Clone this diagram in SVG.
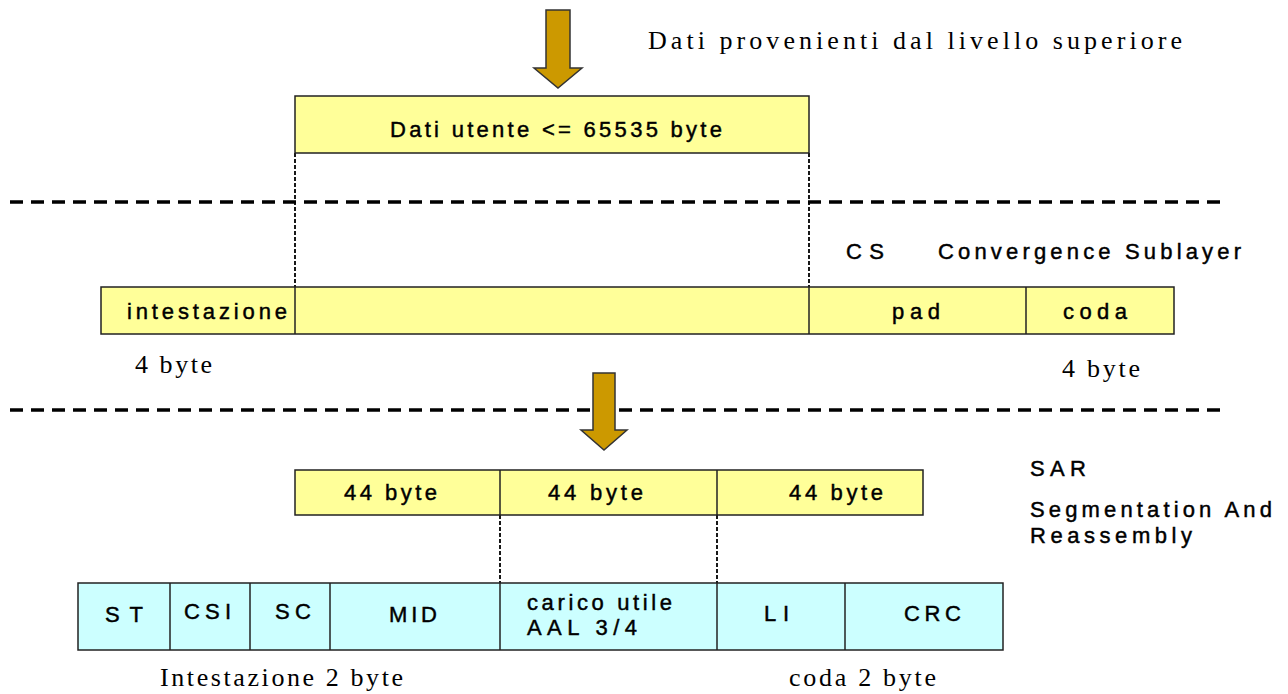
<svg xmlns="http://www.w3.org/2000/svg" width="1288" height="694" viewBox="0 0 1288 694">
  <style>
    .y { fill: #FFFF99; stroke: #222; stroke-width: 1.5; }
    .c { fill: #CCFFFF; stroke: #222; stroke-width: 1.5; }
    .div { stroke: #222; stroke-width: 1.5; }
    .arrow { fill: #CC9900; stroke: #333; stroke-width: 1.5; }
    .dash { stroke: #000; stroke-width: 3.5; stroke-dasharray: 13 8; fill: none; }
    .dot { stroke: #000; stroke-width: 1.8; stroke-dasharray: 4 2; fill: none; }
    .s { font-family: "Liberation Sans", Arial, sans-serif; font-size: 22px; fill: #000; stroke: #000; stroke-width: 0.45; }
    .r { font-family: "Liberation Serif", "Times New Roman", serif; font-size: 26px; fill: #000; }
  </style>

  <!-- sublayer boundaries -->
  <g id="separators">
    <line class="dash" x1="10" y1="202" x2="1222" y2="202"/>
    <line class="dash" x1="10" y1="410" x2="1222" y2="410"/>
  </g>

  <!-- data flow arrows and projection lines -->
  <g id="connectors">
    <polygon class="arrow" points="546,10 570,10 570,68 582,68 558,88 534,68 546,68"/>
    <polygon class="arrow" points="593,373 615,373 615,430 627,430 604,450 581,430 593,430"/>
    <line class="dot" x1="295" y1="153" x2="295" y2="287"/>
    <line class="dot" x1="809" y1="153" x2="809" y2="287"/>
    <line class="dot" x1="500" y1="515" x2="500" y2="583"/>
    <line class="dot" x1="717" y1="515" x2="717" y2="583"/>
  </g>

  <g id="upper-label">
    <text class="r" x="648" y="49" textLength="534" lengthAdjust="spacing">Dati provenienti dal livello superiore</text>
  </g>

  <g id="user-data">
    <rect class="y" x="295" y="96" width="514" height="57"/>
    <text class="s" x="390" y="137" textLength="332" lengthAdjust="spacing">Dati utente &lt;= 65535 byte</text>
  </g>

  <g id="cs-label">
    <text class="s" x="846" y="259" textLength="38" lengthAdjust="spacing">CS</text>
    <text class="s" x="938" y="259" textLength="303" lengthAdjust="spacing">Convergence Sublayer</text>
  </g>

  <g id="cs-pdu">
    <rect class="y" x="101" y="287" width="1073" height="47"/>
    <line class="div" x1="295" y1="287" x2="295" y2="334"/>
    <line class="div" x1="809" y1="287" x2="809" y2="334"/>
    <line class="div" x1="1026" y1="287" x2="1026" y2="334"/>
    <text class="s" x="127" y="319" textLength="160" lengthAdjust="spacing">intestazione</text>
    <text class="s" x="892" y="319" textLength="48" lengthAdjust="spacing">pad</text>
    <text class="s" x="1063" y="319" textLength="64" lengthAdjust="spacing">coda</text>
    <text class="r" x="135" y="373" textLength="77" lengthAdjust="spacing">4 byte</text>
    <text class="r" x="1062" y="377" textLength="78" lengthAdjust="spacing">4 byte</text>
  </g>

  <g id="sar-label">
    <text class="s" x="1030" y="476" textLength="56" lengthAdjust="spacing">SAR</text>
    <text class="s" x="1030" y="517" textLength="242" lengthAdjust="spacing">Segmentation And</text>
    <text class="s" x="1030" y="543" textLength="162" lengthAdjust="spacing">Reassembly</text>
  </g>

  <g id="segments">
    <rect class="y" x="295" y="470" width="628" height="45"/>
    <line class="div" x1="500" y1="470" x2="500" y2="515"/>
    <line class="div" x1="717" y1="470" x2="717" y2="515"/>
    <text class="s" x="344" y="500" textLength="93" lengthAdjust="spacing">44 byte</text>
    <text class="s" x="548" y="500" textLength="95" lengthAdjust="spacing">44 byte</text>
    <text class="s" x="789" y="500" textLength="94" lengthAdjust="spacing">44 byte</text>
  </g>

  <g id="sar-pdu">
    <rect class="c" x="78" y="583" width="925" height="67"/>
    <line class="div" x1="170" y1="583" x2="170" y2="650"/>
    <line class="div" x1="250" y1="583" x2="250" y2="650"/>
    <line class="div" x1="330" y1="583" x2="330" y2="650"/>
    <line class="div" x1="500" y1="583" x2="500" y2="650"/>
    <line class="div" x1="717" y1="583" x2="717" y2="650"/>
    <line class="div" x1="845" y1="583" x2="845" y2="650"/>
    <text class="s" x="105" y="622" textLength="38" lengthAdjust="spacing">ST</text>
    <text class="s" x="184" y="619" textLength="47" lengthAdjust="spacing">CSI</text>
    <text class="s" x="275" y="619" textLength="36" lengthAdjust="spacing">SC</text>
    <text class="s" x="389" y="622" textLength="48" lengthAdjust="spacing">MID</text>
    <text class="s" x="527" y="610" textLength="145" lengthAdjust="spacing">carico utile</text>
    <text class="s" x="527" y="635" textLength="110" lengthAdjust="spacing">AAL 3/4</text>
    <text class="s" x="764" y="621" textLength="25" lengthAdjust="spacing">LI</text>
    <text class="s" x="904" y="621" textLength="57" lengthAdjust="spacing">CRC</text>
    <text class="r" x="160" y="686" textLength="243" lengthAdjust="spacing">Intestazione 2 byte</text>
    <text class="r" x="789" y="686" textLength="147" lengthAdjust="spacing">coda 2 byte</text>
  </g>
</svg>
